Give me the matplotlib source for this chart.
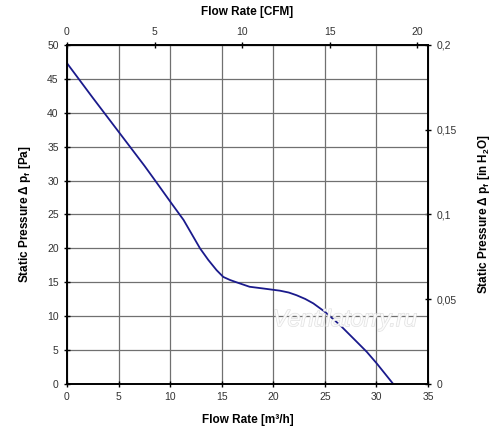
import matplotlib
matplotlib.use("Agg")
import matplotlib.pyplot as plt
import matplotlib.patheffects as pe
from matplotlib.ticker import FuncFormatter

plt.rcParams['font.family'] = ['Liberation Sans', 'DejaVu Sans']

# Fan curve: flow [m3/h] vs static pressure [Pa]
flow_m3h = [0, 2.5, 5, 7.5, 8.5, 10.15, 11.3, 12.1, 12.9, 13.7, 14.5, 15.15,
            15.8, 16.45, 17.7, 19.0, 20.65, 21.5, 22.26, 23.1, 23.88, 25.0,
            26.47, 28.09, 29.06, 30.03, 31.64]
pressure_pa = [47.3, 42.2, 37.2, 32.2, 30.1, 26.6, 24.2, 22.1, 20.0, 18.3, 16.8,
               15.8, 15.35, 15.0, 14.35, 14.1, 13.77, 13.5, 13.1, 12.55, 11.9,
               10.66, 8.7, 6.24, 4.76, 3.05, 0]

x_ticks = [0, 5, 10, 15, 20, 25, 30, 35]
y_ticks = [0, 5, 10, 15, 20, 25, 30, 35, 40, 45, 50]
cfm_ticks = [0, 5, 10, 15, 20]
inh2o_ticks = [0, 0.05, 0.1, 0.15, 0.2]

M3H_PER_CFM = 1.699
INH2O_PER_PA = 0.2 / 50


def comma(v, pos):
    return ('%g' % v).replace('.', ',')


fig = plt.figure(figsize=(5.0, 4.4), dpi=100)
ax = fig.add_axes([0.134, 0.127, 0.722, 0.771])

ax.plot(flow_m3h, pressure_pa, color='#1a1a8c', linewidth=1.3,
        solid_joinstyle='round')

ax.set_xlim(0, 35)
ax.set_ylim(0, 50)
ax.set_xticks(x_ticks)
ax.set_yticks(y_ticks)
ax.grid(True, color='#707070', linewidth=0.9)
ax.set_axisbelow(True)
for s in ax.spines.values():
    s.set_linewidth(1.4)
    s.set_color('black')
ax.tick_params(direction='inout', length=5, width=1, labelsize=7.5,
               labelcolor='#333333')

ax.set_xlabel('Flow Rate [m³/h]', fontsize=8.5, fontweight='bold', labelpad=8)
ax.set_ylabel(r'Static Pressure Δ p$_\mathregular{f}$ [Pa]', fontsize=8.5,
              fontweight='bold', labelpad=10)

top = ax.secondary_xaxis('top', functions=(lambda x: x / M3H_PER_CFM,
                                           lambda c: c * M3H_PER_CFM))
top.set_xticks(cfm_ticks)
top.tick_params(direction='inout', length=5, width=1, labelsize=7.5,
                labelcolor='#333333')
top.set_xlabel('Flow Rate [CFM]', fontsize=8.5, fontweight='bold', labelpad=8)

right = ax.secondary_yaxis('right', functions=(lambda p: p * INH2O_PER_PA,
                                               lambda h: h / INH2O_PER_PA))
right.set_yticks(inh2o_ticks)
right.yaxis.set_major_formatter(FuncFormatter(comma))
right.tick_params(direction='inout', length=5, width=1, labelsize=7.5,
                  labelcolor='#333333')
right.set_ylabel(r'Static Pressure Δ p$_\mathregular{f}$ [in H$_\mathregular{2}$O]',
                 fontsize=8.5, fontweight='bold', labelpad=14)

ax.text(0.77, 0.19, 'Ventilatorry.ru', transform=ax.transAxes, fontsize=17,
        style='italic', color='white', alpha=0.8, ha='center', va='center',
        zorder=5,
        path_effects=[pe.withStroke(linewidth=0.9, foreground='#d8d8d8')])

fig.savefig('out.png', dpi=100)
